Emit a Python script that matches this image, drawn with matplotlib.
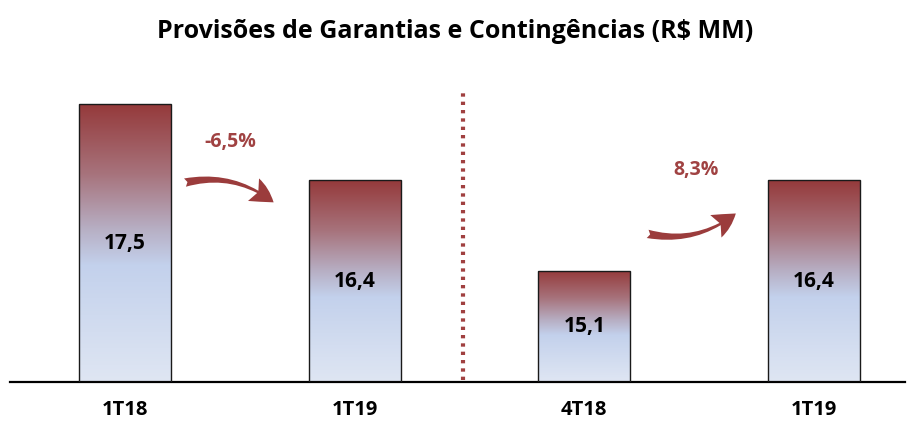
import matplotlib.pyplot as plt
import numpy as np
from matplotlib.colors import LinearSegmentedColormap
from matplotlib.patches import FancyArrowPatch

# dados
categorias = ["1T18", "1T19", "4T18", "1T19"]
valores = [17.5, 16.4, 15.1, 16.4]
rotulos = ["17,5", "16,4", "15,1", "16,4"]
variacoes = ["-6,5%", "8,3%"]

plt.rcParams['font.family'] = ['Open Sans', 'DejaVu Sans']

vermelho = "#9B3C3C"
grad = LinearSegmentedColormap.from_list(
    "grad",
    [(0.0, "#DFE6F3"), (0.42, "#C3D1EC"), (0.55, "#B7AFC4"),
     (0.75, "#A7737C"), (1.0, "#953A3B")])

fig = plt.figure(figsize=(9.15, 4.25), dpi=100)
ax = fig.add_axes([10 / 915, 43 / 425, 895 / 915, 322 / 425])
base = 13.5
ax.set_xlim(-0.5, 3.396)
ax.set_ylim(base, base + 322 / 69.5)

x = np.arange(len(valores))
largura = 0.40
barras = ax.bar(x, np.array(valores) - base, width=largura, bottom=base,
                color="none", edgecolor="#1a1a1a", linewidth=1.0, zorder=3)

img = np.linspace(0, 1, 256).reshape(-1, 1)
for b, v, r in zip(barras, valores, rotulos):
    x0 = b.get_x()
    im = ax.imshow(img, cmap=grad, origin="lower", aspect="auto",
                   extent=(x0, x0 + largura, base, v), zorder=2)
    im.set_clip_path(b)
    ax.text(b.get_x() + largura / 2, (base + v) / 2, r, ha="center", va="center",
            fontsize=15, fontweight="bold", color="black", zorder=4)

# linha pontilhada separadora
ax.plot([1.47, 1.47], [base + 0.03, 17.67], linestyle=(0, (0.8, 1.2)),
        color="#A04040", linewidth=3, solid_capstyle="butt", zorder=1)

# setas curvas
estilo = "fancy,head_length=0.9,head_width=0.95,tail_width=0.32"
seta1 = FancyArrowPatch((0.25, 16.36), (0.657, 16.06), arrowstyle=estilo,
                        connectionstyle="arc3,rad=-0.25", mutation_scale=19,
                        color=vermelho, linewidth=0, zorder=4)
seta2 = FancyArrowPatch((2.264, 15.64), (2.669, 15.95), arrowstyle=estilo,
                        connectionstyle="arc3,rad=0.25", mutation_scale=19,
                        color=vermelho, linewidth=0, zorder=4)
ax.add_patch(seta1)
ax.add_patch(seta2)

ax.text(0.46, base + (382 - 142) / 69.5, variacoes[0], ha="center", va="center",
        fontsize=14, fontweight="bold", color="#A04242")
ax.text(2.485, base + (382 - 170) / 69.5, variacoes[1], ha="center", va="center",
        fontsize=14, fontweight="bold", color="#A04242")

ax.set_xticks(x)
ax.set_xticklabels(categorias, fontsize=14.5, fontweight="bold")
ax.tick_params(axis="x", length=0, pad=13)
ax.set_yticks([])
for s in ["top", "right", "left"]:
    ax.spines[s].set_visible(False)
ax.spines["bottom"].set_linewidth(1.6)
ax.spines["bottom"].set_color("black")

fig.text(0.497, 1 - 31 / 425, "Provisões de Garantias e Contingências (R$ MM)",
         ha="center", va="center", fontsize=18, fontweight="bold")

fig.savefig("out.png", dpi=100)
